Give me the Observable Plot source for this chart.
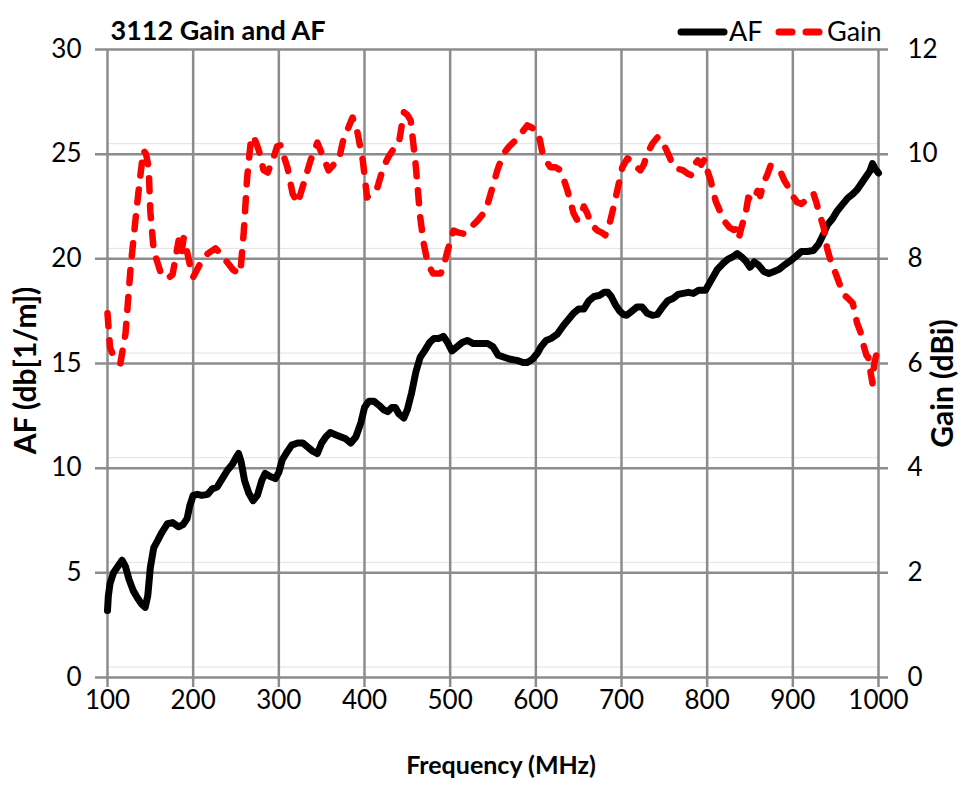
<!DOCTYPE html>
<html>
<head>
<meta charset="utf-8">
<script src="https://cdn.jsdelivr.net/npm/d3@7"></script>
<script src="https://cdn.jsdelivr.net/npm/@observablehq/plot@0.6"></script>
<style>
  html, body { margin: 0; padding: 0; background: #fff; }
  #wrap { position: relative; width: 961px; height: 798px; font-family: Lato, "Open Sans", sans-serif; }
  #legend { position: absolute; left: 0; top: 0; }
</style>
</head>
<body>
<div id="wrap"></div>
<script>
// ---- Data ----
const chartTitle = "3112 Gain and AF";
const xLabel = "Frequency (MHz)";
const yLeftLabel = "AF (db[1/m])";
const yRightLabel = "Gain (dBi)";
const seriesNames = ["AF", "Gain"];

const xTicks = [100, 200, 300, 400, 500, 600, 700, 800, 900, 1000];
const afTicks = [0, 5, 10, 15, 20, 25, 30];
const gainTicks = [0, 2, 4, 6, 8, 10, 12];

const afFreq = [100,101,103,107,112,117,121,125,130,135,140,144,147,150,154,158,163,170,176,183,188,193,196,200,205,210,217,222,228,234,240,246,250,253,256,260,265,270,275,280,284,290,296,300,304,310,315,322,328,334,340,345,350,355,360,366,372,378,384,390,396,400,405,411,417,422,427,432,436,440,446,450,455,460,465,470,476,481,487,492,497,502,508,514,520,527,535,544,550,556,563,570,578,585,590,596,602,606,612,618,625,632,638,644,650,656,662,668,674,680,684,688,693,698,702,706,712,718,724,730,736,742,748,754,760,766,772,778,784,790,798,805,812,819,825,830,835,840,845,850,855,860,866,872,878,884,890,897,903,910,917,924,930,936,940,946,952,958,964,970,975,980,985,990,993,996,1000];
const afValues = [3.2,3.9,4.5,5.0,5.3,5.6,5.3,4.7,4.15,3.8,3.5,3.35,3.9,5.25,6.2,6.5,6.9,7.35,7.4,7.2,7.3,7.6,8.2,8.7,8.75,8.7,8.75,9.0,9.1,9.5,9.9,10.2,10.5,10.7,10.3,9.4,8.8,8.45,8.7,9.4,9.75,9.6,9.5,9.8,10.4,10.8,11.1,11.2,11.2,11.0,10.8,10.7,11.2,11.5,11.7,11.6,11.5,11.4,11.2,11.5,12.2,12.9,13.2,13.2,13.0,12.8,12.7,12.9,12.9,12.6,12.4,12.8,13.6,14.6,15.3,15.6,16.0,16.2,16.2,16.3,16.0,15.6,15.8,16.0,16.1,15.95,15.95,15.95,15.8,15.4,15.3,15.2,15.15,15.05,15.05,15.2,15.5,15.8,16.1,16.2,16.4,16.8,17.1,17.4,17.6,17.6,18.0,18.2,18.25,18.4,18.4,18.2,17.8,17.5,17.35,17.3,17.5,17.7,17.7,17.4,17.3,17.35,17.7,18.0,18.1,18.3,18.35,18.4,18.35,18.5,18.5,19.0,19.5,19.8,20.0,20.1,20.25,20.1,19.9,19.6,19.85,19.7,19.4,19.3,19.4,19.5,19.7,19.9,20.1,20.35,20.35,20.4,20.7,21.2,21.6,21.9,22.3,22.6,22.9,23.1,23.3,23.6,23.9,24.2,24.55,24.3,24.1];

const gainFreq = [100,103,108,115,121,127,133,138,142,145,148,150,154,162,170,176,183,186,189,192,196,200,208,217,226,232,238,247,255,259,263,267,270,274,278,282,287,294,298,302,306,310,316,322,329,337,345,352,358,364,370,375,381,386,392,398,403,409,415,422,428,434,440,443,446,450,454,460,465,469,474,480,489,493,497,504,510,516,524,532,538,544,550,555,562,569,576,583,590,596,602,605,608,613,617,623,629,633,637,644,648,652,656,660,665,672,677,681,685,689,695,701,707,713,718,722,726,730,736,742,746,751,756,760,766,772,778,781,785,789,793,797,800,804,810,816,821,826,831,835,837,840,845,848,853,859,862,866,870,874,880,886,890,895,900,905,910,914,920,924,927,930,936,940,944,950,955,958,964,970,975,979,982,986,988,990,993,995,998,1000];
const gainValues = [6.96,6.3,6.1,6.0,6.57,7.84,8.8,9.55,10.07,10.0,9.75,8.9,8.15,7.74,7.62,7.7,8.35,8.1,8.4,8.2,7.9,7.65,7.9,8.1,8.2,8.1,7.97,7.78,7.72,8.5,9.55,10.2,10.35,10.2,10.0,9.7,9.65,9.94,10.15,10.17,9.95,9.75,9.25,9.06,9.44,9.88,10.22,9.94,9.69,9.8,9.88,10.26,10.5,10.7,10.4,9.88,9.17,9.3,9.36,9.75,9.95,10.1,10.2,10.5,10.8,10.75,10.64,9.75,8.8,8.3,7.9,7.72,7.72,7.9,8.16,8.54,8.5,8.48,8.6,8.73,8.85,9.06,9.4,9.69,10.0,10.15,10.26,10.4,10.55,10.5,10.45,10.25,10.0,9.85,9.75,9.75,9.69,9.5,9.3,8.87,8.75,8.77,9.0,8.87,8.65,8.54,8.5,8.45,8.6,8.87,9.3,9.75,9.92,9.85,9.75,9.69,9.8,10.0,10.2,10.32,10.3,10.13,9.95,9.78,9.72,9.69,9.62,9.6,9.8,9.88,9.8,9.9,9.7,9.5,9.1,8.87,8.7,8.6,8.55,8.58,8.4,8.6,8.87,9.17,9.1,9.3,9.2,9.46,9.6,9.78,9.72,9.65,9.5,9.36,9.2,9.08,9.05,9.1,9.2,9.25,9.1,8.92,8.6,8.2,7.97,7.72,7.5,7.34,7.25,7.15,6.77,6.6,6.38,6.15,6.12,5.9,5.62,6.0,6.2,6.2];

// ---- Build ----
const gainToAF = 30 / 12; // secondary axis scaling
const afData = afFreq.map((f, i) => ({f, v: afValues[i]}));
const gainData = gainFreq.map((f, i) => ({f, v: gainValues[i] * gainToAF}));
const minorGrid = afTicks.slice(0, -1).map(t => t + 0.5);

const gridColor = "#8c8c8c";

const chart = Plot.plot({
  width: 961,
  height: 798,
  marginLeft: 107,
  marginRight: 83,
  marginTop: 49,
  marginBottom: 121,
  style: {fontFamily: "Lato, 'Open Sans', sans-serif", fontSize: "26px", color: "#000", background: "#fff", overflow: "visible"},
  x: {domain: [100, 1000], axis: null},
  y: {domain: [0, 30], axis: null},
  marks: [
    Plot.ruleY(minorGrid, {stroke: "#e2e2e2", strokeWidth: 1}),
    Plot.ruleX(xTicks, {stroke: gridColor, strokeWidth: 2.5, insetBottom: -10}),
    Plot.ruleY(afTicks, {stroke: gridColor, strokeWidth: 2.5, insetLeft: -12, insetRight: -10}),
    Plot.axisX(xTicks, {anchor: "bottom", tickSize: 0, tickPadding: 13, label: null, tickFormat: d => String(d)}),
    Plot.axisY(afTicks, {anchor: "left", tickSize: 0, tickPadding: 26, label: null, tickFormat: d => String(d)}),
    Plot.axisY(afTicks, {anchor: "right", tickSize: 0, tickPadding: 29, label: null, tickFormat: d => String(gainTicks[afTicks.indexOf(d)])}),
    Plot.line(afData, {x: "f", y: "v", stroke: "#000", strokeWidth: 7, strokeLinecap: "round", strokeLinejoin: "round"}),
    Plot.line(gainData, {x: "f", y: "v", stroke: "#ff0000", strokeWidth: 6.5, strokeDasharray: "13,14", strokeLinecap: "round", strokeLinejoin: "round"}),
    Plot.text([yLeftLabel], {frameAnchor: "left", dx: -81, dy: 7, rotate: -90, textAnchor: "middle", fontWeight: "bold", fontSize: 30}),
    Plot.text([yRightLabel], {frameAnchor: "right", dx: 65, dy: 20, rotate: -90, textAnchor: "middle", fontWeight: "bold", fontSize: 30}),
    Plot.text([xLabel], {frameAnchor: "bottom", dx: 8, dy: 96, textAnchor: "middle", fontWeight: "bold", fontSize: 25}),
    Plot.text([chartTitle], {frameAnchor: "top-left", dx: 3, dy: -29, textAnchor: "start", fontWeight: "bold", fontSize: 27})
  ]
});

const wrap = document.getElementById("wrap");
wrap.appendChild(chart);

// Legend overlay (top right)
const legend = d3.create("svg")
  .attr("id", "legend")
  .attr("width", 961).attr("height", 50)
  .style("font-family", "Lato, 'Open Sans', sans-serif")
  .style("font-size", "27px");
const items = [
  {name: seriesNames[0], color: "#000", dash: null, x0: 681, x1: 724, tx: 729},
  {name: seriesNames[1], color: "#ff0000", dash: "13,14", x0: 779, x1: 820, tx: 827}
];
for (const it of items) {
  const ln = legend.append("line")
    .attr("x1", it.x0).attr("x2", it.x1).attr("y1", 32).attr("y2", 32)
    .attr("stroke", it.color).attr("stroke-width", 7).attr("stroke-linecap", "round");
  if (it.dash) ln.attr("stroke-dasharray", it.dash);
  legend.append("text").attr("x", it.tx).attr("y", 41).text(it.name);
}
wrap.appendChild(legend.node());
</script>
</body>
</html>
